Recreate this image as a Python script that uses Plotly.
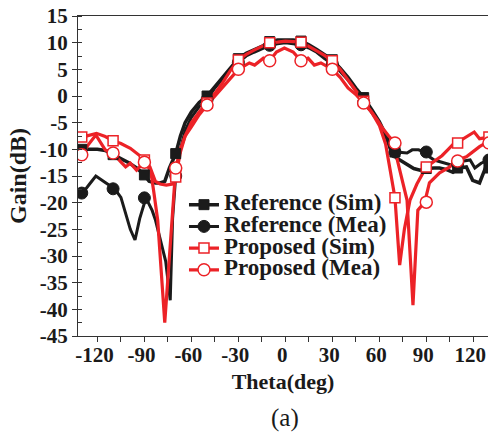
import plotly.graph_objects as go

# ---------------- data ----------------
# dense curves (Theta in deg, Gain in dB)
ref_sim_x = [-131, -125, -120, -115, -110, -105, -100, -95, -90, -87, -83, -80, -77, -74, -70, -67, -64, -60, -55, -50,
             -45, -40, -35, -30, -25, -20, -15, -10, -5, 0, 5, 10, 15, 20, 25, 30, 35, 40, 45, 50, 55, 60, 65, 68, 71,
             75, 78, 82, 86, 90, 95, 98.5, 103, 107, 111, 115.6, 119.6, 124, 128, 131]
ref_sim_y = [-10, -10, -10, -10.2, -11, -11.8, -12.5, -13.5, -14.8, -16, -16.3, -16.3, -16, -13.5, -10.8, -7.5, -5, -3,
             -1.2, 0, 1.8, 3.5, 5.3, 7, 8, 8.6, 9.3, 10.2, 10.5, 10.5, 10.5, 10.3, 9.6, 8.7, 7.8, 6.8, 5.2, 3.5, 1.5,
             -0.3, -2.5, -4.8, -7.8, -10.5, -11.6, -12.3, -13, -13.6, -13.9, -13.6, -13.5, -13.5, -13.8, -14.3, -13.5,
             -13.3, -15.8, -16.3, -13.3, -13.5]

ref_mea_x = [-131, -129.5, -125, -121, -115, -109, -105, -102, -99, -96, -93, -89, -85, -83, -76.4, -73.5, -72, -70, -67,
             -64, -60, -55, -50, -45, -40, -35, -30, -25, -20, -15, -10, -5, 0, 5, 10, 15, 20, 25, 30, 35, 40, 45, 50,
             55, 60, 64, 67, 71, 74, 77.7, 81, 85, 89, 92, 95, 98.5, 103, 107, 110, 114, 118, 121, 125, 128, 131]
ref_mea_y = [-18.5, -18.2, -16.5, -15, -16.2, -17.4, -19, -22, -25, -27, -23, -19.1, -21.5, -23.2, -31, -38.3, -23, -15,
             -10, -6.5, -4, -2, -0.7, 1.5, 3.3, 5, 6.3, 7.5, 8.2, 8.8, 9.5, 9.8, 10, 9.8, 9.6, 9, 8.2, 7, 6, 4.6, 3, 1,
             -1.2, -3, -5, -7.5, -10, -10.5, -10.6, -10.7, -10.1, -10.1, -10.5, -11.4, -12, -12.3, -12.6, -13, -12.7,
             -12.2, -12, -13.5, -12.6, -12.2, -12]

pro_sim_x = [-131, -129.5, -125, -120.6, -115, -110, -105, -99, -92, -86.5, -83, -80, -76, -72, -70, -67, -64, -60, -55,
             -50, -45, -40, -35, -30, -25, -20, -15, -10, -5, 0, 5, 10, 15, 20, 25, 30, 35, 40, 45, 50, 55, 60, 64, 67,
             70, 73, 76, 79.6, 84, 90, 95, 100, 104, 108, 112, 116, 120.6, 124, 128, 131]
pro_sim_y = [-7.8, -7.7, -7.4, -7.0, -7.6, -8.4, -8.9, -9.8, -11.4, -13.3, -16, -16.5, -16.7, -16.5, -15.2, -10.5, -7.5,
             -5, -3, -1.3, 0.5, 2.5, 4.8, 6.75, 7.8, 8.6, 9.3, 10, 10.1, 10.3, 10.2, 10.1, 9.3, 8.5, 7.6, 6.6, 5, 3, 1,
             -1, -3, -5.5, -9, -14, -19.1, -31.7, -25, -19.5, -16.5, -13.3, -12.3, -11.2, -10, -8.8, -8.3, -7.6, -6.75,
             -8, -7.8, -7.7]

pro_mea_x = [-131, -129.5, -126, -121, -115, -110, -105.5, -102, -99, -95, -90, -86, -84, -81.5, -77, -72, -70, -67, -64,
             -60, -55, -50, -45, -40, -35, -30, -23, -19.6, -14, -10, -5.7, -0.6, 5, 10, 14.5, 18.5, 22.7, 30, 35, 40,
             45, 50, 55, 58.7, 62, 66, 70, 71, 74, 77.7, 81.5, 84.6, 89, 92, 98.5, 105, 108, 115.6, 124, 128, 131]
pro_mea_y = [-11.5, -11, -9.2, -7.3, -10.1, -10.7, -12.2, -13.3, -12.6, -13.9, -12.4, -14, -18, -23.3, -42.5, -23, -13.5,
             -10, -7.5, -5.8, -3.5, -1.7, 0, 1.8, 3.5, 5, 6.2, 5.8, 7.1, 6.6, 8.25, 9, 8.25, 6.6, 7.1, 5.8, 6.2, 5, 3.5,
             1.5, 0.3, -1.3, -3, -4.5, -6, -7.5, -8.8, -11.4, -15, -19.5, -39.2, -21.4, -19.9, -16.3, -14.4, -13.3,
             -12.2, -11.4, -9.5, -8.8, -8.6]

# marker points (every 20 deg)
marker_x = [-130, -110, -90, -70, -50, -30, -10, 10, 30, 50, 70, 90, 110, 130]
ref_sim_mk = [-10, -11, -14.8, -10.8, 0, 7, 10.2, 10.3, 6.8, -0.3, -10.5, -13.6, -13.5, -13.5]
ref_mea_mk = [-18.2, -17.4, -19.1, -15, -0.7, 6.3, 9.5, 9.6, 6, -1.2, -10.5, -10.5, -12.7, -12]
pro_sim_mk = [-7.7, -8.4, -12, -15.2, -1.3, 6.75, 10, 10.1, 6.6, -1, -19.1, -13.3, -8.8, -7.7]
pro_mea_mk = [-11, -10.7, -12.4, -13.5, -1.7, 5, 6.6, 6.6, 5, -1.3, -8.8, -19.9, -12.2, -8.8]

x_ticks = [-120, -90, -60, -30, 0, 30, 60, 90, 120]
y_ticks = [15, 10, 5, 0, -5, -10, -15, -20, -25, -30, -35, -40, -45]
names = ["Reference (Sim)", "Reference (Mea)", "Proposed (Sim)", "Proposed (Mea)"]

# ---------------- style ----------------
BLACK = "#1b1b1b"
RED = "#ec2227"
FONT = "Liberation Serif"

series = [
    (ref_sim_x, ref_sim_y, ref_sim_mk, BLACK, 3.5, dict(symbol="square", size=10, color=BLACK,
                                                         line=dict(color=BLACK, width=1))),
    (ref_mea_x, ref_mea_y, ref_mea_mk, BLACK, 3.0, dict(symbol="circle", size=12, color=BLACK,
                                                         line=dict(color=BLACK, width=1))),
    (pro_sim_x, pro_sim_y, pro_sim_mk, RED, 3.2, dict(symbol="square", size=10, color="white",
                                                       line=dict(color=RED, width=1.5))),
    (pro_mea_x, pro_mea_y, pro_mea_mk, RED, 3.2, dict(symbol="circle", size=12, color="white",
                                                       line=dict(color=RED, width=1.5))),
]

fig = go.Figure()
for (xs, ys, mk, col, w, mstyle) in series:
    fig.add_trace(go.Scatter(x=xs, y=ys, mode="lines", line=dict(color=col, width=w),
                             showlegend=False, hoverinfo="skip"))
for (xs, ys, mk, col, w, mstyle) in series:
    fig.add_trace(go.Scatter(x=marker_x, y=mk, mode="markers", marker=mstyle,
                             showlegend=False, cliponaxis=True))
for name, (xs, ys, mk, col, w, mstyle) in zip(names, series):
    fig.add_trace(go.Scatter(x=[None], y=[None], mode="lines+markers",
                             line=dict(color=col, width=w), marker=mstyle,
                             name='<span style="font-size:23px">' + name + '</span>'))

fig.update_layout(
    width=488, height=434,
    margin=dict(l=78, r=0, t=16, b=98, autoexpand=False),
    paper_bgcolor="white", plot_bgcolor="white",
    font=dict(family=FONT, color="#1a1a1a"),
    showlegend=True,
    legend=dict(x=0.2585, y=0.46, xanchor="left", yanchor="top",
                bgcolor="rgba(0,0,0,0)", borderwidth=0,
                font=dict(family=FONT, size=14.4, weight="bold", color="#1a1a1a"),
                itemwidth=30, tracegroupgap=0),
    xaxis=dict(range=[-132.4, 129.4], tickvals=x_ticks, ticktext=[str(v) for v in x_ticks],
               ticks="outside", ticklen=5, tickwidth=1, tickcolor="#333",
               minor=dict(dtick=15, tick0=15, ticks="outside", ticklen=5, tickcolor="#333"),
               showline=True, linecolor="#333", linewidth=1, mirror=True,
               showgrid=False, zeroline=False, automargin=False, ticklabeloverflow="allow",
               ticklabelstandoff=-5, ticklabelshift=-3,
               tickfont=dict(family=FONT, size=21, weight="bold", color="#1a1a1a"),
               title=dict(text="Theta(deg)", standoff=7,
                          font=dict(family=FONT, size=22, weight="bold", color="#1a1a1a"))),
    yaxis=dict(range=[-45, 15], tickvals=y_ticks, ticktext=[str(v) for v in y_ticks],
               ticks="outside", ticklen=5, tickwidth=1, tickcolor="#333",
               minor=dict(dtick=2.5, ticks="inside", ticklen=4, tickcolor="#333"),
               showline=True, linecolor="#333", linewidth=1, mirror=False,
               showgrid=False, zeroline=False, automargin=False, ticklabeloverflow="allow",
               tickfont=dict(family=FONT, size=21, weight="bold", color="#1a1a1a"),
               title=dict(text="Gain(dB)", standoff=6,
                          font=dict(family=FONT, size=24, weight="bold", color="#1a1a1a"))),
    annotations=[dict(text="(a)", x=0.504, y=-0.256, xref="paper", yref="paper",
                      xanchor="center", yanchor="middle",
                      showarrow=False, font=dict(family=FONT, size=25, color="#1a1a1a"))],
)

# remove the default 8px page margin so the 488x434 figure fills the window exactly
fig.write_html("out.html", config={"displayModeBar": False},
               post_script="document.body.style.margin='0';document.body.style.overflow='hidden';")
